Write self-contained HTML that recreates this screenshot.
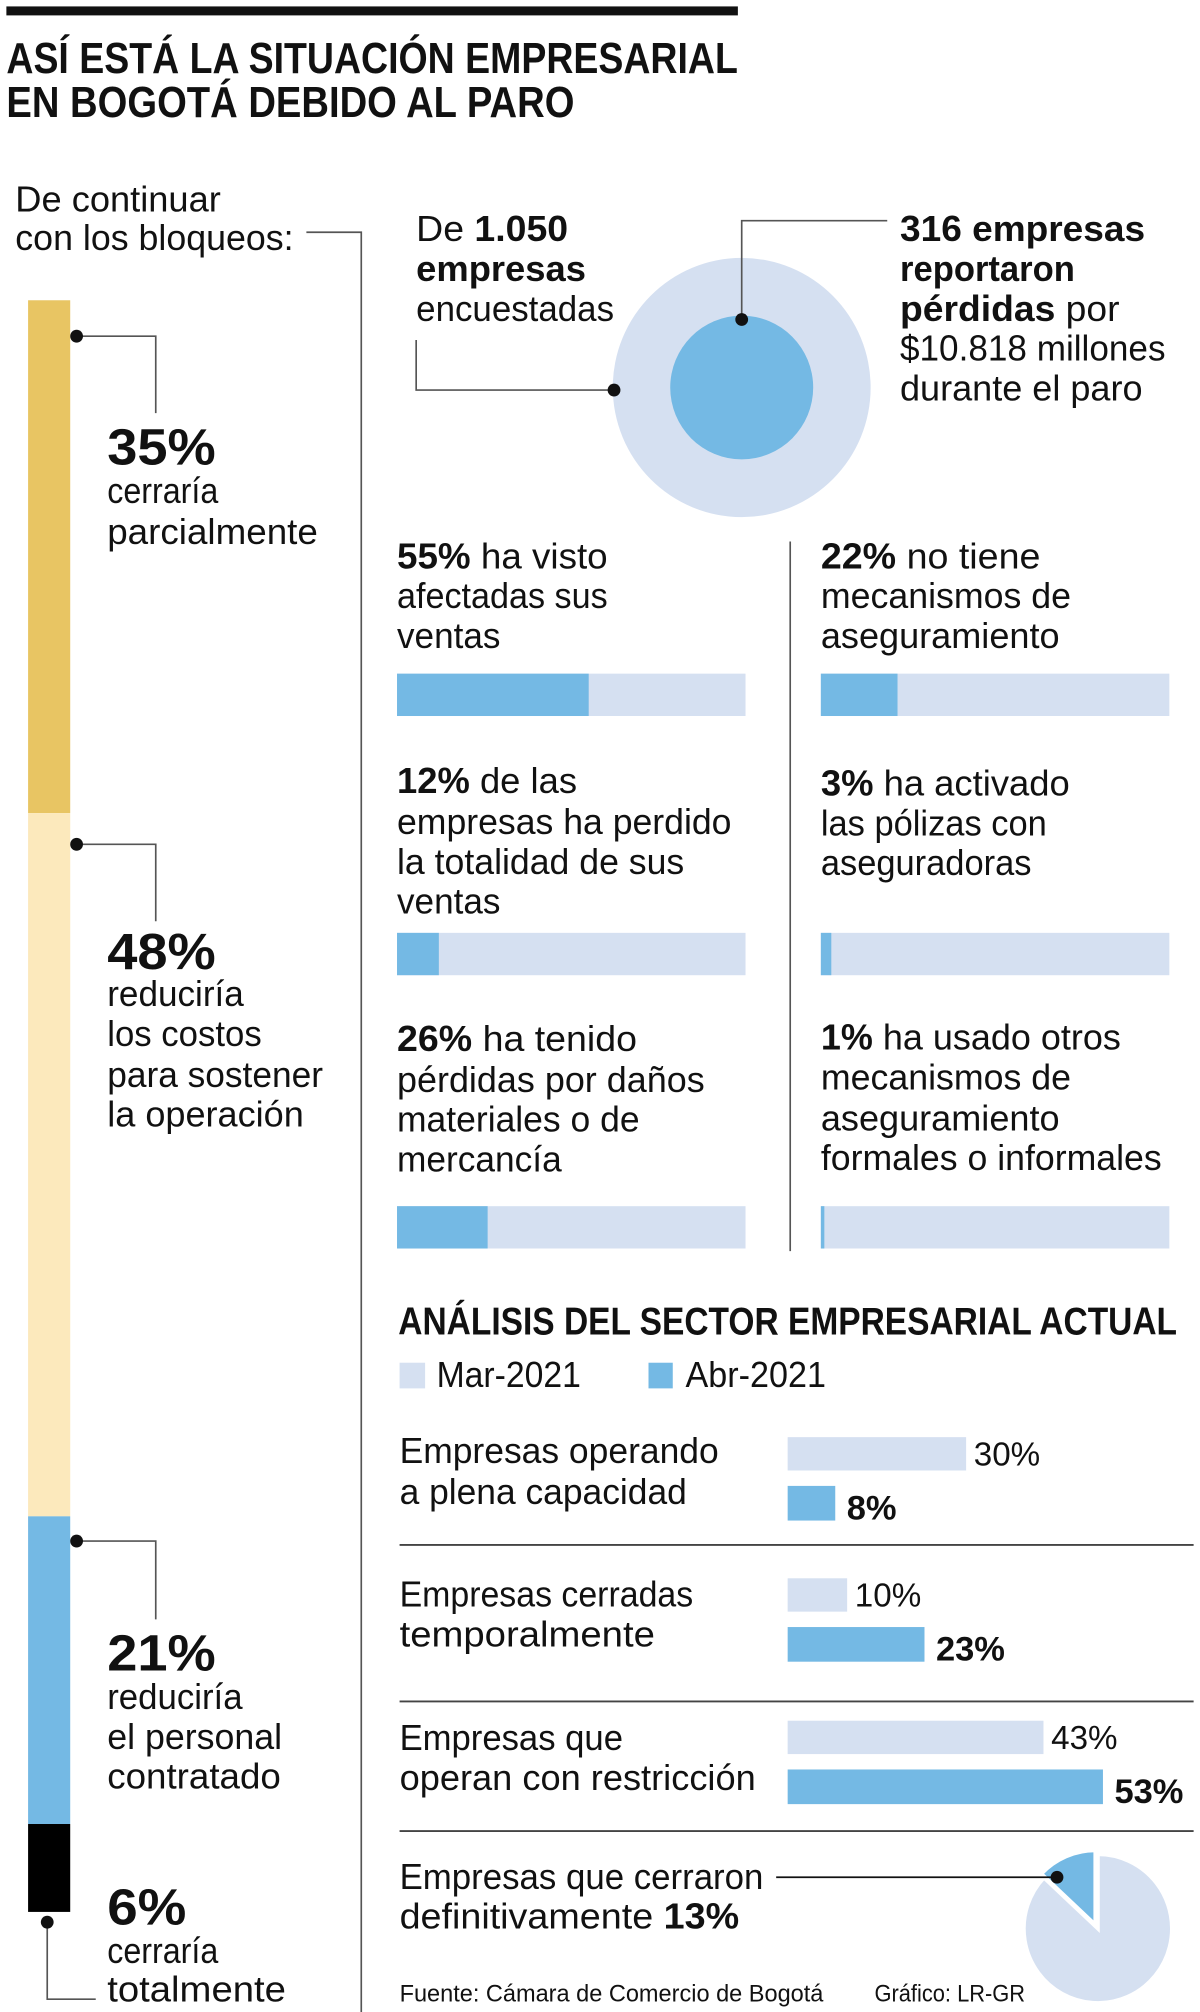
<!DOCTYPE html>
<html><head><meta charset="utf-8"><style>
html,body{margin:0;padding:0;background:#fff;width:1200px;height:2012px;overflow:hidden}
svg{display:block}
text{font-family:"Liberation Sans",sans-serif;fill:#111}
.r{font-size:28px}
.b{font-weight:bold}
</style></head><body>
<svg id="root" width="1200" height="2012" viewBox="0 0 940 1568" preserveAspectRatio="none" xmlns="http://www.w3.org/2000/svg">
<rect x="5" y="5" width="573" height="7" fill="#111"/>
<g>
<text x="5" y="57" class="b" font-size="34" textLength="573" lengthAdjust="spacingAndGlyphs">ASÍ ESTÁ LA SITUACIÓN EMPRESARIAL</text>
<text x="5" y="91" class="b" font-size="34" textLength="445" lengthAdjust="spacingAndGlyphs">EN BOGOTÁ DEBIDO AL PARO</text>
</g>
<g>
<text x="12" y="165" class="r" textLength="161" lengthAdjust="spacingAndGlyphs">De continuar</text>
<text x="12" y="195" class="r" textLength="218" lengthAdjust="spacingAndGlyphs">con los bloqueos:</text>
<polyline points="240,181 283,181 283,1568" fill="none" stroke="#555" stroke-width="1.3"/>
</g>
<g id="stackbar"></g>
<g>
<polyline points="60,262 122,262 122,322" fill="none" stroke="#555" stroke-width="1.3"/><circle cx="60" cy="262" r="5" fill="#111"/>
<text x="84" y="362" class="b" font-size="40" textLength="85" lengthAdjust="spacingAndGlyphs">35%</text>
<text x="84" y="392" class="r" textLength="87" lengthAdjust="spacingAndGlyphs">cerraría</text>
<text x="84" y="424" class="r" textLength="165" lengthAdjust="spacingAndGlyphs">parcialmente</text>
<polyline points="60,658 122,658 122,718" fill="none" stroke="#555" stroke-width="1.3"/><circle cx="60" cy="658" r="5" fill="#111"/>
<text x="84" y="755" class="b" font-size="40" textLength="85" lengthAdjust="spacingAndGlyphs">48%</text>
<text x="84" y="784" class="r" textLength="107" lengthAdjust="spacingAndGlyphs">reduciría</text>
<text x="84" y="815" class="r" textLength="121" lengthAdjust="spacingAndGlyphs">los costos</text>
<text x="84" y="847" class="r" textLength="169" lengthAdjust="spacingAndGlyphs">para sostener</text>
<text x="84" y="878" class="r" textLength="154" lengthAdjust="spacingAndGlyphs">la operación</text>
<polyline points="60,1201 122,1201 122,1262" fill="none" stroke="#555" stroke-width="1.3"/><circle cx="60" cy="1201" r="5" fill="#111"/>
<text x="84" y="1302" class="b" font-size="40" textLength="85" lengthAdjust="spacingAndGlyphs">21%</text>
<text x="84" y="1332" class="r" textLength="106" lengthAdjust="spacingAndGlyphs">reduciría</text>
<text x="84" y="1363" class="r" textLength="137" lengthAdjust="spacingAndGlyphs">el personal</text>
<text x="84" y="1394" class="r" textLength="136" lengthAdjust="spacingAndGlyphs">contratado</text>
<polyline points="37,1498 37,1558 75,1558" fill="none" stroke="#555" stroke-width="1.3"/><circle cx="37" cy="1498" r="5" fill="#111"/>
<text x="84" y="1500" class="b" font-size="40" textLength="62" lengthAdjust="spacingAndGlyphs">6%</text>
<text x="84" y="1530" class="r" textLength="87" lengthAdjust="spacingAndGlyphs">cerraría</text>
<text x="84" y="1560" class="r" textLength="140" lengthAdjust="spacingAndGlyphs">totalmente</text>
</g>
<g>
<circle cx="581" cy="302" r="101" fill="#D5E0F1"/>
<circle cx="581" cy="302" r="56" fill="#74B9E4"/>
<polyline points="581,249 581,172 695,172" fill="none" stroke="#555" stroke-width="1.3"/><circle cx="581" cy="249" r="5" fill="#111"/>
<polyline points="481,304 326,304 326,265" fill="none" stroke="#555" stroke-width="1.3"/><circle cx="481" cy="304" r="5" fill="#111"/>
<text x="326" y="188" class="r" textLength="119" lengthAdjust="spacingAndGlyphs">De <tspan class="b">1.050</tspan></text>
<text x="326" y="219" class="r b" textLength="133" lengthAdjust="spacingAndGlyphs">empresas</text>
<text x="326" y="250" class="r" textLength="155" lengthAdjust="spacingAndGlyphs">encuestadas</text>
<text x="705" y="188" class="r b" textLength="192" lengthAdjust="spacingAndGlyphs">316 empresas</text>
<text x="705" y="219" class="r b" textLength="137" lengthAdjust="spacingAndGlyphs">reportaron</text>
<text x="705" y="250" class="r" textLength="172" lengthAdjust="spacingAndGlyphs"><tspan class="b">pérdidas</tspan> por</text>
<text x="705" y="281" class="r" textLength="208" lengthAdjust="spacingAndGlyphs">$10.818 millones</text>
<text x="705" y="312" class="r" textLength="190" lengthAdjust="spacingAndGlyphs">durante el paro</text>
</g>
<line x1="619" y1="422" x2="619" y2="975" stroke="#555" stroke-width="1.3"/>
<g>
<text x="311" y="443" class="r" textLength="165" lengthAdjust="spacingAndGlyphs"><tspan class="b">55%</tspan> ha visto</text>
<text x="311" y="474" class="r" textLength="165" lengthAdjust="spacingAndGlyphs">afectadas sus</text>
<text x="311" y="505" class="r" textLength="81" lengthAdjust="spacingAndGlyphs">ventas</text>
<text x="643" y="443" class="r" textLength="172" lengthAdjust="spacingAndGlyphs"><tspan class="b">22%</tspan> no tiene</text>
<text x="643" y="474" class="r" textLength="196" lengthAdjust="spacingAndGlyphs">mecanismos de</text>
<text x="643" y="505" class="r" textLength="187" lengthAdjust="spacingAndGlyphs">aseguramiento</text>
<text x="311" y="618" class="r" textLength="141" lengthAdjust="spacingAndGlyphs"><tspan class="b">12%</tspan> de las</text>
<text x="311" y="650" class="r" textLength="262" lengthAdjust="spacingAndGlyphs">empresas ha perdido</text>
<text x="311" y="681" class="r" textLength="225" lengthAdjust="spacingAndGlyphs">la totalidad de sus</text>
<text x="311" y="712" class="r" textLength="81" lengthAdjust="spacingAndGlyphs">ventas</text>
<text x="643" y="620" class="r" textLength="195" lengthAdjust="spacingAndGlyphs"><tspan class="b">3%</tspan> ha activado</text>
<text x="643" y="651" class="r" textLength="177" lengthAdjust="spacingAndGlyphs">las pólizas con</text>
<text x="643" y="682" class="r" textLength="165" lengthAdjust="spacingAndGlyphs">aseguradoras</text>
<text x="311" y="819" class="r" textLength="188" lengthAdjust="spacingAndGlyphs"><tspan class="b">26%</tspan> ha tenido</text>
<text x="311" y="851" class="r" textLength="241" lengthAdjust="spacingAndGlyphs">pérdidas por daños</text>
<text x="311" y="882" class="r" textLength="190" lengthAdjust="spacingAndGlyphs">materiales o de</text>
<text x="311" y="913" class="r" textLength="129" lengthAdjust="spacingAndGlyphs">mercancía</text>
<text x="643" y="818" class="r" textLength="235" lengthAdjust="spacingAndGlyphs"><tspan class="b">1%</tspan> ha usado otros</text>
<text x="643" y="849" class="r" textLength="196" lengthAdjust="spacingAndGlyphs">mecanismos de</text>
<text x="643" y="881" class="r" textLength="187" lengthAdjust="spacingAndGlyphs">aseguramiento</text>
<text x="643" y="912" class="r" textLength="267" lengthAdjust="spacingAndGlyphs">formales o informales</text>
</g>
<g id="statbars"></g>
<text x="312" y="1040" class="b" font-size="30" textLength="610" lengthAdjust="spacingAndGlyphs">ANÁLISIS DEL SECTOR EMPRESARIAL ACTUAL</text>
<g>
<rect x="313" y="1062" width="20" height="20" fill="#D5E0F1"/>
<text x="342" y="1081" class="r" textLength="113" lengthAdjust="spacingAndGlyphs">Mar-2021</text>
<rect x="508" y="1062" width="19" height="20" fill="#74B9E4"/>
<text x="537" y="1081" class="r" textLength="110" lengthAdjust="spacingAndGlyphs">Abr-2021</text>
</g>
<g>
<text x="313" y="1140" class="r" textLength="250" lengthAdjust="spacingAndGlyphs">Empresas operando</text>
<text x="313" y="1172" class="r" textLength="225" lengthAdjust="spacingAndGlyphs">a plena capacidad</text>
<text x="313" y="1252" class="r" textLength="230" lengthAdjust="spacingAndGlyphs">Empresas cerradas</text>
<text x="313" y="1283" class="r" textLength="200" lengthAdjust="spacingAndGlyphs">temporalmente</text>
<text x="313" y="1364" class="r" textLength="175" lengthAdjust="spacingAndGlyphs">Empresas que</text>
<text x="313" y="1395" class="r" textLength="279" lengthAdjust="spacingAndGlyphs">operan con restricción</text>
<text x="313" y="1472" class="r" textLength="285" lengthAdjust="spacingAndGlyphs">Empresas que cerraron</text>
<text x="313" y="1503" class="r" textLength="266" lengthAdjust="spacingAndGlyphs">definitivamente <tspan class="b">13%</tspan></text>
</g>
<g>
<line x1="313" y1="1204" x2="935" y2="1204" stroke="#444" stroke-width="1.5"/>
<line x1="313" y1="1326" x2="935" y2="1326" stroke="#444" stroke-width="1.5"/>
<line x1="313" y1="1427" x2="935" y2="1427" stroke="#444" stroke-width="1.5"/>
</g>
<g id="bars"></g>
<g id="pie"></g>
<line x1="608" y1="1463" x2="828" y2="1463" stroke="#111" stroke-width="1.3"/>
<circle cx="828" cy="1463" r="5" fill="#111"/>
<g>
<text x="313" y="1560" font-size="19" textLength="332" lengthAdjust="spacingAndGlyphs">Fuente: Cámara de Comercio de Bogotá</text>
<text x="685" y="1560" font-size="19" textLength="118" lengthAdjust="spacingAndGlyphs">Gráfico: LR-GR</text>
</g>
</svg>
<script>
const NS="http://www.w3.org/2000/svg";
const stackLabels=["parcial","reducir-costos","reducir-personal","cerrar-total"];
const stackValues=[35,48,21,6];
const statLabels=["ventas-afectadas","sin-aseguramiento","perdida-total","polizas-activadas","danos-materiales","otros-mecanismos"];
const statValues=[55,22,12,3,26,1];
const categories=["plena-capacidad","cerradas-temporalmente","con-restriccion"];
const marValues=[30,10,43];
const abrValues=[8,23,53];
const pieValues=[13,87];
function mk(tag,attrs,parent){const e=document.createElementNS(NS,tag);for(const k in attrs)e.setAttribute(k,attrs[k]);parent.appendChild(e);return e;}
(function(){
 const g=document.getElementById('stackbar');const colors=["#E8C563","#FCE9BC","#74B9E4","#000"];
 const top=234,bottom=1490,total=stackValues.reduce((a,b)=>a+b,0);
 const sy=v=>v/total*(bottom-top);let y=top;
 stackValues.forEach((v,i)=>{const h=sy(v);const r=mk('rect',{x:22,y:y,width:33,height:h,fill:colors[i]},g);
 
 y+=h;});
})();
(function(){
 const g=document.getElementById('statbars');
 const cols=[311,643],rows=[525,727,940],w=273,h=33;
 const sx=v=>v/100*w;
 statValues.forEach((v,i)=>{const x=cols[i%2],y=rows[Math.floor(i/2)];
 const bg=mk('rect',{x:x,y:y,width:w,height:h,fill:"#D5E0F1"},g);
 
 
 const f=mk('rect',{x:x,y:y,width:sx(v),height:h,fill:"#74B9E4"},g);
 
 });
})();
(function(){
 const g=document.getElementById('bars');
 const x0=617,k=4.66,rowY=[1120,1230,1341],gap=38,bh=26;
 const sx=v=>v*k;
 categories.forEach((c,i)=>{
  const y1=rowY[i],y2=rowY[i]+gap;
  const a=mk('rect',{x:x0,y:y1,width:sx(marValues[i]),height:bh,fill:"#D5E0F1"},g);
  
  
  const t1=mk('text',{x:x0+sx(marValues[i])+6,y:y1+22,'font-size':26},g);t1.textContent=marValues[i]+"%";
  
  
  const b=mk('rect',{x:x0,y:y2,width:sx(abrValues[i]),height:bh+1,fill:"#74B9E4"},g);
  
  
  const t2=mk('text',{x:x0+sx(abrValues[i])+9,y:y2+26,'font-size':27,'font-weight':'bold'},g);t2.textContent=abrValues[i]+"%";
  
  
 });
})();
(function(){
 const g=document.getElementById('pie');const cx=860,cy=1503,r=58;
 const total=pieValues[0]+pieValues[1];const ang=pieValues[0]/total*2*Math.PI;
 const a0=-Math.PI/2;
 const pt=a=>[cx+r*Math.cos(a),cy+r*Math.sin(a)];
 const [x1,y1]=pt(a0),[x2,y2]=pt(a0-ang);
 const rest=mk('path',{d:`M${cx},${cy} L${x1},${y1} A${r},${r} 0 ${ang<Math.PI?1:0} 1 ${x2},${y2} Z`,fill:"#D5E0F1",stroke:"#fff","stroke-width":3},g);
 
 
 const s=mk('path',{d:`M${cx},${cy} L${x2},${y2} A${r},${r} 0 ${ang>Math.PI?1:0} 1 ${x1},${y1} Z`,fill:"#74B9E4",stroke:"#fff","stroke-width":3,transform:"translate(-2,-3)"},g);
 
 
})();
</script>
</body></html>
